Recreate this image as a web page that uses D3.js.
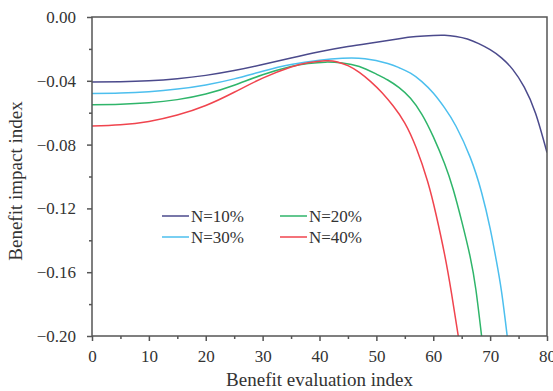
<!DOCTYPE html>
<html>
<head>
<meta charset="utf-8">
<script src="https://cdn.jsdelivr.net/npm/d3@7"></script>
<style>
  body { margin: 0; background: #fff; }
  svg { display: block; font-family: "Liberation Serif", "Times New Roman", serif; }
</style>
</head>
<body>
<div id="chart"></div>
<script>
// values
const seriesNames = ["N=10%", "N=20%", "N=30%", "N=40%"];
const seriesColors = ["#4b4a8c", "#2fb56a", "#4cbfee", "#f0444e"];

const x10 = [0, 5, 10, 15, 20, 25, 30, 35, 40, 45, 50, 54, 57, 60, 62, 64, 66, 68, 70, 72, 74, 76, 78, 80];
const y10 = [-0.0408, -0.0406, -0.0400, -0.0387, -0.0366, -0.0336, -0.0298, -0.0257, -0.0218, -0.0185, -0.0158, -0.0136, -0.0123, -0.0116, -0.0115, -0.0122, -0.0138, -0.0167, -0.0205, -0.0256, -0.0330, -0.0440, -0.0605, -0.0850];

const x20 = [0, 5, 10, 15, 20, 25, 30, 35, 38, 41, 44, 47, 50, 52, 54, 56, 58, 60, 62, 63.5, 65, 66.5, 67.5, 68.5];
const y20 = [-0.0550, -0.0547, -0.0538, -0.0518, -0.0483, -0.0428, -0.0362, -0.0310, -0.0291, -0.0283, -0.0288, -0.0310, -0.0358, -0.0395, -0.0443, -0.0510, -0.0610, -0.0750, -0.0920, -0.1080, -0.1280, -0.1505, -0.1710, -0.2000];

const x30 = [0, 5, 10, 15, 20, 25, 30, 35, 40, 44, 48, 52, 54, 56, 58, 60, 62, 64, 66.5, 68.5, 70, 71, 72, 73];
const y30 = [-0.0479, -0.0476, -0.0468, -0.0452, -0.0426, -0.0388, -0.0340, -0.0298, -0.0271, -0.0259, -0.0262, -0.0292, -0.0318, -0.0352, -0.0405, -0.0477, -0.0570, -0.0685, -0.0880, -0.1100, -0.1325, -0.1510, -0.1720, -0.2000];

const x40 = [0, 5, 10, 15, 20, 25, 30, 35, 38, 41, 43, 45, 47, 49, 51, 53, 55, 57, 59, 60.5, 62, 63.2, 64.4];
const y40 = [-0.0684, -0.0676, -0.0655, -0.0615, -0.0555, -0.0472, -0.0383, -0.0313, -0.0287, -0.0275, -0.0280, -0.0305, -0.0347, -0.0405, -0.0475, -0.0560, -0.0665, -0.0820, -0.1030, -0.1240, -0.1490, -0.1730, -0.2000];

const xTicks = [0, 10, 20, 30, 40, 50, 60, 70, 80];
const yTicks = [0, -0.04, -0.08, -0.12, -0.16, -0.20];

const series = [
    { name: seriesNames[0], color: seriesColors[0], xs: x10, ys: y10 },
    { name: seriesNames[1], color: seriesColors[1], xs: x20, ys: y20 },
    { name: seriesNames[2], color: seriesColors[2], xs: x30, ys: y30 },
    { name: seriesNames[3], color: seriesColors[3], xs: x40, ys: y40 }
];

const width = 553, height = 391;
const margin = { top: 17, right: 6, bottom: 55, left: 92 };
const innerW = width - margin.left - margin.right;
const innerH = height - margin.top - margin.bottom;
const axisColor = "#555";
const textColor = "#333";

const svg = d3.select("#chart").append("svg")
    .attr("width", width)
    .attr("height", height);

const g = svg.append("g")
    .attr("transform", `translate(${margin.left},${margin.top})`);

const x = d3.scaleLinear().domain([0, 80]).range([0, innerW]);
const y = d3.scaleLinear().domain([-0.2, 0]).range([innerH, 0]);

svg.append("defs").append("clipPath").attr("id", "plot-clip")
    .append("rect").attr("width", innerW).attr("height", innerH);

// curves
const line = d3.line()
    .x(d => x(d[0]))
    .y(d => y(d[1]))
    .curve(d3.curveNatural);

g.append("g").attr("clip-path", "url(#plot-clip)")
    .selectAll("path")
    .data(series)
    .enter().append("path")
    .attr("fill", "none")
    .attr("stroke", d => d.color)
    .attr("stroke-width", 1.5)
    .attr("d", d => line(d.xs.map((v, i) => [v, d.ys[i]])));

// frame
g.append("rect")
    .attr("width", innerW)
    .attr("height", innerH)
    .attr("fill", "none")
    .attr("stroke", axisColor)
    .attr("stroke-width", 1.5);

const fmtY = v => v === 0 ? "0.00" : "\u2212" + Math.abs(v).toFixed(2);

// minor ticks
const xAxisMinor = d3.axisBottom(x).tickValues(d3.range(5, 80, 10)).tickSize(3).tickFormat("");
const yAxisMinor = d3.axisLeft(y).tickValues([-0.02, -0.06, -0.10, -0.14, -0.18]).tickSize(3).tickFormat("");

const xAxis = d3.axisBottom(x).tickValues(xTicks).tickSize(5).tickPadding(9).tickFormat(d3.format("d"));
const yAxis = d3.axisLeft(y).tickValues(yTicks).tickSize(5).tickPadding(11).tickFormat(fmtY);

[
    g.append("g").attr("transform", `translate(0,${innerH})`).call(xAxisMinor),
    g.append("g").call(yAxisMinor),
    g.append("g").attr("transform", `translate(0,${innerH})`).call(xAxis),
    g.append("g").call(yAxis)
].forEach(a => {
    a.select(".domain").remove();
    a.selectAll("line").attr("stroke", axisColor).attr("stroke-width", 1.5);
    a.selectAll("text")
        .attr("fill", textColor)
        .style("font-family", "'Liberation Serif', 'Times New Roman', serif")
        .style("font-size", "17px");
});

// axis titles
svg.append("text")
    .attr("x", margin.left + innerW / 2)
    .attr("y", 386)
    .attr("text-anchor", "middle")
    .attr("fill", textColor)
    .style("font-size", "19px")
    .text("Benefit evaluation index");

svg.append("text")
    .attr("transform", "translate(22,181) rotate(-90)")
    .attr("text-anchor", "middle")
    .attr("fill", textColor)
    .style("font-size", "19px")
    .text("Benefit impact index");

// legend: two columns, two rows
const legendPos = [[162, 216], [280, 216], [162, 237], [280, 237]];

const legend = svg.append("g")
    .selectAll("g")
    .data(series)
    .enter().append("g")
    .attr("transform", (d, i) => `translate(${legendPos[i][0]},${legendPos[i][1]})`);

legend.append("line")
    .attr("x1", 0).attr("x2", 27)
    .attr("stroke", d => d.color)
    .attr("stroke-width", 1.5);

legend.append("text")
    .attr("x", 29)
    .attr("dy", "0.35em")
    .attr("fill", textColor)
    .style("font-size", "17px")
    .text(d => d.name);
</script>
</body>
</html>
